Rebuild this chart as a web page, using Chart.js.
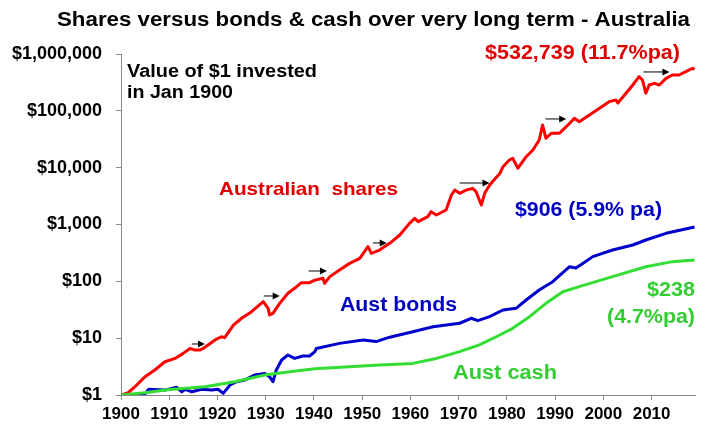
<!DOCTYPE html>
<html>
<head>
<meta charset="utf-8">
<script src="https://cdn.jsdelivr.net/npm/chart.js@4/dist/chart.umd.min.js"></script>
<style>
html,body{margin:0;padding:0;background:#fff;}
#wrap{width:720px;height:437px;}
</style>
</head>
<body>
<div id="wrap"><canvas id="c" width="720" height="437"></canvas></div>
<script>
// ---- data (value of $1 invested in Jan 1900) ----
const sharesYears = [1900,1901.5,1902.9,1905,1907,1909.1,1911.2,1912.9,1914.3,1915.3,1916.4,1917.4,1919.5,1920.8,1921.5,1923.3,1925,1927,1929.5,1930.5,1930.8,1931.5,1932.9,1934.6,1936.4,1937.4,1939.1,1940.2,1941.9,1942.2,1943.3,1945.3,1947.4,1949.5,1951.2,1951.9,1953.6,1955.7,1957.8,1959.8,1960.9,1961.6,1963.6,1964.3,1965.4,1967.4,1968.5,1969.2,1970.2,1971.6,1972.9,1973.6,1974.7,1975.4,1976.4,1977.4,1978.5,1979.2,1980.5,1981.2,1982.3,1984,1985.4,1986.7,1987.4,1988.1,1989.2,1990.9,1992.3,1994,1995,1997.1,1999.2,2001.2,2002.6,2003,2004.7,2006.1,2007.4,2008.1,2008.8,2009.5,2010.6,2011.6,2013,2014.3,2015.7,2017.1,2018.5,2018.9];
const sharesValues = [1.0,1.1,1.4,2.1,2.75,3.85,4.4,5.4,6.6,6.2,6.2,6.9,9.3,10.6,10.2,17,22.4,29,43.8,33.5,25.6,27.4,41,61.6,80.5,94.6,94.6,105,113,92,121,158,207,254,407,311,355,467,653,1048,1282,1122,1374,1680,1469,1800,3300,4050,3540,4050,4330,3800,2200,3540,4900,6200,7800,10400,13650,14600,9770,15600,20500,30700,56400,32900,40300,40300,52600,73800,64400,84500,111000,145000,155000,137000,204000,285000,399000,349000,204000,285000,305000,285000,373000,427000,427000,489000,561000,532739];

const bondsYears = [1900,1902.9,1905,1905.7,1909.1,1911.5,1912.6,1913.3,1914.7,1916.7,1918.8,1920.1,1921.2,1922.6,1924,1925.7,1927.7,1929.8,1930.8,1931.5,1932.2,1933.3,1934.6,1936,1937.7,1939.1,1940.2,1940.5,1945.3,1950.2,1952.9,1955.7,1960.5,1964.7,1970.2,1972.6,1974,1976.4,1979.2,1981.9,1984,1986.7,1989.5,1993,1994.3,1995.5,1997.8,2001.9,2006.1,2008.8,2013,2018.9];
const bondsValues = [1.0,1.0,1.05,1.26,1.22,1.37,1.14,1.26,1.14,1.26,1.22,1.26,1.07,1.5,1.71,1.84,2.25,2.4,2.1,1.71,2.75,4.13,5.06,4.4,4.86,4.86,5.8,6.6,8.1,9.3,8.7,10.4,13,15.9,18.3,22.4,20.3,23.9,31.3,33.5,47,70.4,98.6,181,172,200,272,356,436,534,700,906];

const cashYears = [1900,1905,1910,1917.4,1923.6,1929.8,1935,1940.2,1953.6,1960.5,1965.4,1970.2,1974.3,1977.8,1981.2,1984.7,1988.1,1991.6,1995,2001.9,2008.8,2014.3,2018.9];
const cashValues = [1.0,1.1,1.25,1.4,1.71,2.25,2.57,2.9,3.37,3.6,4.4,5.8,7.6,10.6,14.9,23.9,41,65.7,80.5,121,181,222,238];

const yTickValues = [1,10,100,1000,10000,100000,1000000];
const xTickYears = [1900,1910,1920,1930,1940,1950,1960,1970,1980,1990,2000,2010];

// annotation arrows (year start, year end, value)
const arrowStarts = [1914.7,1929.6,1938.9,1952.2,1970.2,1988.0,2008.3];
const arrowEnds   = [1917.4,1932.9,1942.7,1955.1,1976.4,1992.3,2013.7];
const arrowLevels = [7.9,55.2,152,473,5375,71900,483000];

const toXY = (xs, ys) => xs.map((x, i) => ({x: x, y: ys[i]}));

const FONT = "'Liberation Sans', Arial, Helvetica, sans-serif";

// text annotations: [text, anchorX, centerY, colour, size, align, targetWidth]
const labels = [
  ['Shares versus bonds & cash over very long term - Australia', 57, 20, '#000000', 20, 'left', 633],
  ['Value of $1 invested', 127, 72, '#000000', 18, 'left', 190],
  ['in Jan 1900', 127, 93, '#000000', 18, 'left', 106],
  ['Australian  shares', 219, 190, '#e00000', 19, 'left', 179],
  ['$532,739 (11.7%pa)', 485, 53, '#e00000', 20, 'left', 195],
  ['$906 (5.9% pa)', 515, 210, '#0000c0', 20, 'left', 147],
  ['Aust bonds', 340, 305, '#0000c0', 20, 'left', 117],
  ['$238', 695, 290, '#33cc33', 20, 'right', 48],
  ['(4.7%pa)', 695, 317, '#33cc33', 20, 'right', 88],
  ['Aust cash', 453, 373, '#33cc33', 20, 'left', 104]
];

const annotPlugin = {
  id: 'annot',
  afterDatasetsDraw(chart) {
    const ctx = chart.ctx;
    const xs = chart.scales.x, ys = chart.scales.y;
    ctx.save();
    // arrows
    ctx.strokeStyle = '#000';
    ctx.fillStyle = '#000';
    ctx.lineWidth = 1;
    for (let i = 0; i < arrowStarts.length; i++) {
      const x0 = xs.getPixelForValue(arrowStarts[i]);
      const x1 = xs.getPixelForValue(arrowEnds[i]);
      const y = ys.getPixelForValue(arrowLevels[i]);
      ctx.beginPath();
      ctx.moveTo(x0, y);
      ctx.lineTo(x1 - 5, y);
      ctx.stroke();
      ctx.beginPath();
      ctx.moveTo(x1, y);
      ctx.lineTo(x1 - 7, y - 3.5);
      ctx.lineTo(x1 - 7, y + 3.5);
      ctx.closePath();
      ctx.fill();
    }
    // text
    ctx.textBaseline = 'middle';
    for (const [t, x, y, col, size, align, tw] of labels) {
      ctx.font = 'bold ' + size + 'px ' + FONT;
      ctx.fillStyle = col;
      const w = ctx.measureText(t).width;
      const sx = tw ? tw / w : 1;
      ctx.save();
      ctx.translate(x, y);
      ctx.scale(sx, 1);
      ctx.textAlign = align;
      ctx.fillText(t, 0, 0);
      ctx.restore();
    }
    ctx.restore();
  }
};

const lineDs = (label, xs, ys, color) => ({
  label: label,
  data: toXY(xs, ys),
  borderColor: color,
  backgroundColor: color,
  borderWidth: 3,
  pointRadius: 0,
  tension: 0,
  borderJoinStyle: 'round',
  fill: false
});

new Chart(document.getElementById('c'), {
  type: 'line',
  data: {
    datasets: [
      lineDs('Aust cash', cashYears, cashValues, '#33dd33'),
      lineDs('Aust bonds', bondsYears, bondsValues, '#0000cc'),
      lineDs('Australian shares', sharesYears, sharesValues, '#ff0000')
    ]
  },
  options: {
    responsive: false,
    animation: false,
    devicePixelRatio: 1,
    layout: { padding: { top: 54, right: 25, bottom: 0, left: 0 } },
    plugins: { legend: { display: false }, title: { display: false }, tooltip: { enabled: false } },
    scales: {
      x: {
        type: 'linear',
        min: 1900,
        max: 2019,
        afterBuildTicks(scale) { scale.ticks = xTickYears.map(v => ({value: v})); },
        afterFit(scale) { scale.height = 42; },
        grid: { display: true, drawOnChartArea: false, drawTicks: true, tickLength: 5, color: '#888' },
        border: { display: true, color: '#888', width: 1 },
        ticks: {
          color: '#000',
          padding: 4,
          maxRotation: 0,
          autoSkip: false,
          font: { family: FONT, size: 17, weight: 'bold' },
          callback: v => String(v)
        }
      },
      y: {
        type: 'logarithmic',
        min: 1,
        max: 1000000,
        afterBuildTicks(scale) { scale.ticks = yTickValues.map(v => ({value: v})); },
        afterFit(scale) { scale.width = 121; },
        grid: { display: true, drawOnChartArea: false, drawTicks: true, tickLength: 5, color: '#888' },
        border: { display: true, color: '#888', width: 1 },
        ticks: {
          color: '#000',
          padding: 14,
          autoSkip: false,
          font: { family: FONT, size: 18, weight: 'bold' },
          callback: v => '$' + Number(v).toLocaleString('en-US')
        }
      }
    }
  },
  plugins: [annotPlugin]
});
</script>
</body>
</html>
